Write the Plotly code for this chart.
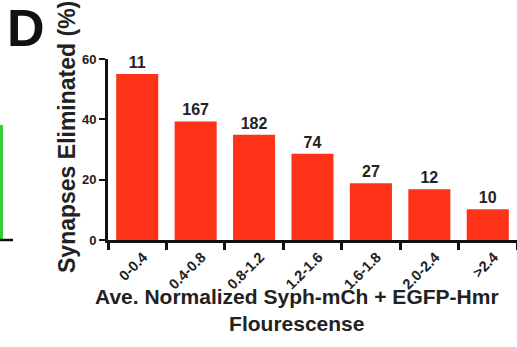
import plotly.graph_objects as go

categories = ["0-0.4", "0.4-0.8", "0.8-1.2", "1.2-1.6", "1.6-1.8", "2.0-2.4", ">2.4"]
eliminated_pct = [55.0, 39.3, 34.9, 28.6, 18.8, 16.8, 10.2]
n_labels = ["11", "167", "182", "74", "27", "12", "10"]
y_ticks = [0, 20, 40, 60]

FONT = "Liberation Sans, Arial, Helvetica, sans-serif"
TXT = "#222222"
W, H = 517, 347
L, R, T, B = 108, 0, 59, 107
PW, PH = W - L - R, H - T - B

fig = go.Figure()
fig.add_trace(go.Bar(
    x=categories, y=eliminated_pct,
    text=n_labels, textposition="outside",
    textfont=dict(family=FONT, size=16, color=TXT, weight="bold"),
    marker=dict(color="#FF3317", line=dict(width=0)),
    cliponaxis=False, showlegend=False,
))

fig.update_layout(
    width=W, height=H,
    margin=dict(l=L, r=R, t=T, b=B, autoexpand=False),
    paper_bgcolor="white", plot_bgcolor="white",
    bargap=0.28,
    font=dict(family=FONT, color=TXT),
    xaxis=dict(
        type="category", range=[-0.5, 6.5], automargin=False,
        tickson="boundaries", ticks="outside", ticklen=7, tickwidth=3, tickcolor="#111",
        tickangle=-45, ticklabelshift=6,
        tickfont=dict(family=FONT, size=14.5, color=TXT, weight="bold"),
        showline=True, linecolor="#111", linewidth=3, showgrid=False, zeroline=False,
    ),
    yaxis=dict(
        range=[0, 60], tickvals=y_ticks, automargin=False,
        ticks="outside", ticklen=6, tickwidth=2, tickcolor="#111",
        tickfont=dict(family=FONT, size=13, color=TXT, weight="bold"),
        showline=True, linecolor="#111", linewidth=3, showgrid=False, zeroline=False,
    ),
)

# axis titles
fig.add_annotation(text="Ave. Normalized Syph-mCh + EGFP-Hmr<br>Flourescense",
                   xref="paper", yref="paper",
                   x=(297 - L) / PW, y=-(283 - (H - B)) / PH,
                   xanchor="center", yanchor="top", showarrow=False,
                   font=dict(family=FONT, size=21, color=TXT, weight="bold"))
fig.add_annotation(text="Synapses Eliminated (%)",
                   xref="paper", yref="paper",
                   x=-(L - 67) / PW, y=((H - B) - 137) / PH, textangle=-90,
                   xanchor="center", yanchor="middle", showarrow=False,
                   font=dict(family=FONT, size=23, color=TXT, weight="bold"))

# panel letter and fragment of neighbouring panel
fig.add_annotation(text="D", xref="paper", yref="paper", x=-(L - 5) / PW, y=1 + (T + 3) / PH,
                   xanchor="left", yanchor="top", showarrow=False,
                   font=dict(family=FONT, size=52, color="#111", weight="bold"))
fig.add_shape(type="line", xref="paper", yref="paper",
              x0=-(L - 1.5) / PW, x1=-(L - 1.5) / PW,
              y0=0.0, y1=(240 - 125) / PH,
              line=dict(color="#33CC33", width=3))
fig.add_shape(type="line", xref="paper", yref="paper",
              x0=-L / PW, x1=-(L - 13) / PW,
              y0=0.0, y1=0.0,
              line=dict(color="#111", width=2.5))

fig.write_html("out.html", config={"displayModeBar": False},
               post_script="document.body.style.margin='0';")
